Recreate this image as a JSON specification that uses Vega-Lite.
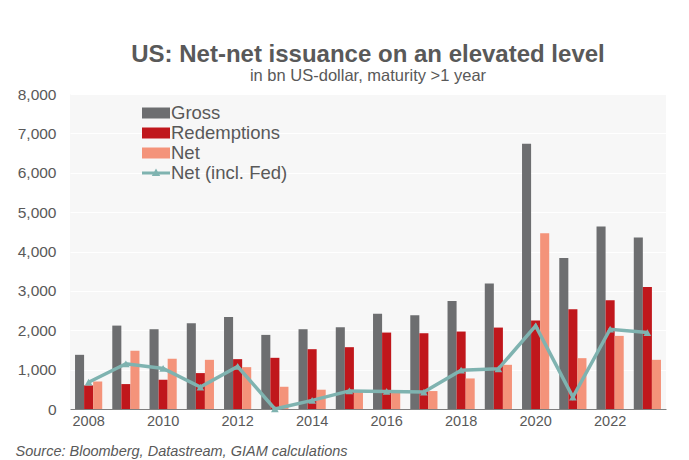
{
  "$schema": "https://vega.github.io/schema/vega-lite/v6.json",
  "width": 596,
  "height": 315,
  "autosize": {"type": "none"},
  "padding": {"left": 70, "right": 23, "top": 94, "bottom": 51},
  "background": "white",
  "config": {
    "font": "Liberation Sans",
    "view": {"stroke": null, "fill": "#f7f7f7"}
  },
  "title": {
    "text": "US: Net-net issuance on an elevated level",
    "subtitle": "in bn US-dollar, maturity >1 year",
    "anchor": "middle",
    "frame": "group",
    "fontSize": 24,
    "fontWeight": "bold",
    "color": "#595959",
    "subtitleFontSize": 16.5,
    "subtitleColor": "#595959",
    "subtitlePadding": 1,
    "offset": 3
  },
  "datasets": {
    "bars": [
      {"year": 2008, "series": "Gross", "value": 1376},
      {"year": 2008, "series": "Redemptions", "value": 600},
      {"year": 2008, "series": "Net", "value": 700},
      {"year": 2009, "series": "Gross", "value": 2118},
      {"year": 2009, "series": "Redemptions", "value": 633},
      {"year": 2009, "series": "Net", "value": 1477},
      {"year": 2010, "series": "Gross", "value": 2026},
      {"year": 2010, "series": "Redemptions", "value": 743},
      {"year": 2010, "series": "Net", "value": 1274},
      {"year": 2011, "series": "Gross", "value": 2178},
      {"year": 2011, "series": "Redemptions", "value": 912},
      {"year": 2011, "series": "Net", "value": 1249},
      {"year": 2012, "series": "Gross", "value": 2338},
      {"year": 2012, "series": "Redemptions", "value": 1266},
      {"year": 2012, "series": "Net", "value": 1063},
      {"year": 2013, "series": "Gross", "value": 1882},
      {"year": 2013, "series": "Redemptions", "value": 1300},
      {"year": 2013, "series": "Net", "value": 565},
      {"year": 2014, "series": "Gross", "value": 2026},
      {"year": 2014, "series": "Redemptions", "value": 1519},
      {"year": 2014, "series": "Net", "value": 490},
      {"year": 2015, "series": "Gross", "value": 2076},
      {"year": 2015, "series": "Redemptions", "value": 1570},
      {"year": 2015, "series": "Net", "value": 440},
      {"year": 2016, "series": "Gross", "value": 2422},
      {"year": 2016, "series": "Redemptions", "value": 1941},
      {"year": 2016, "series": "Net", "value": 422},
      {"year": 2017, "series": "Gross", "value": 2380},
      {"year": 2017, "series": "Redemptions", "value": 1924},
      {"year": 2017, "series": "Net", "value": 456},
      {"year": 2018, "series": "Gross", "value": 2743},
      {"year": 2018, "series": "Redemptions", "value": 1967},
      {"year": 2018, "series": "Net", "value": 776},
      {"year": 2019, "series": "Gross", "value": 3190},
      {"year": 2019, "series": "Redemptions", "value": 2068},
      {"year": 2019, "series": "Net", "value": 1122},
      {"year": 2020, "series": "Gross", "value": 6735},
      {"year": 2020, "series": "Redemptions", "value": 2245},
      {"year": 2020, "series": "Net", "value": 4465},
      {"year": 2021, "series": "Gross", "value": 3832},
      {"year": 2021, "series": "Redemptions", "value": 2532},
      {"year": 2021, "series": "Net", "value": 1291},
      {"year": 2022, "series": "Gross", "value": 4634},
      {"year": 2022, "series": "Redemptions", "value": 2760},
      {"year": 2022, "series": "Net", "value": 1857},
      {"year": 2023, "series": "Gross", "value": 4355},
      {"year": 2023, "series": "Redemptions", "value": 3097},
      {"year": 2023, "series": "Net", "value": 1249}
    ],
    "fed": [
      {"year": 2008, "value": 680},
      {"year": 2009, "value": 1148},
      {"year": 2010, "value": 1030},
      {"year": 2011, "value": 557},
      {"year": 2012, "value": 1080},
      {"year": 2013, "value": 0},
      {"year": 2014, "value": 219},
      {"year": 2015, "value": 460},
      {"year": 2016, "value": 447},
      {"year": 2017, "value": 430},
      {"year": 2018, "value": 987},
      {"year": 2019, "value": 1021},
      {"year": 2020, "value": 2110},
      {"year": 2021, "value": 304},
      {"year": 2022, "value": 2026},
      {"year": 2023, "value": 1941}
    ]
  },
  "encoding": {
    "x": {
      "field": "year",
      "type": "ordinal",
      "scale": {"paddingInner": 0.27, "paddingOuter": 0.135},
      "axis": {
        "values": [2008, 2010, 2012, 2014, 2016, 2018, 2020, 2022],
        "labelAngle": 0,
        "domain": true,
        "domainColor": "#808080",
        "domainWidth": 1,
        "ticks": false,
        "grid": false,
        "labelFontSize": 14.5,
        "labelColor": "#595959",
        "labelPadding": 5,
        "title": "Source: Bloomberg, Datastream, GIAM calculations",
        "titleFontStyle": "italic",
        "titleFontWeight": "normal",
        "titleFontSize": 14.5,
        "titleColor": "#595959",
        "titleAnchor": "start",
        "titleAlign": "left",
        "titleBaseline": "alphabetic",
        "titleX": -55,
        "titleY": 46
      }
    },
    "y": {
      "field": "value",
      "type": "quantitative",
      "scale": {"domain": [0, 8000], "nice": false},
      "axis": {
        "values": [0, 1000, 2000, 3000, 4000, 5000, 6000, 7000, 8000],
        "format": ",.0f",
        "title": null,
        "domain": false,
        "ticks": false,
        "grid": true,
        "gridColor": "#ffffff",
        "gridWidth": 1.2,
        "labelFontSize": 15.5,
        "labelColor": "#595959",
        "labelPadding": 14
      }
    }
  },
  "layer": [
    {
      "data": {"name": "bars"},
      "mark": {"type": "bar"},
      "encoding": {
        "xOffset": {
          "field": "series",
          "type": "nominal",
          "sort": ["Gross", "Redemptions", "Net"],
          "scale": {"paddingInner": 0}
        },
        "color": {
          "field": "series",
          "type": "nominal",
          "scale": {
            "domain": ["Gross", "Redemptions", "Net", "Net (incl. Fed)"],
            "range": ["#6d6e70", "#c0171c", "#f4937a", "#7fb3b0"]
          },
          "legend": {
            "orient": "none",
            "legendX": 76,
            "legendY": 9,
            "title": null,
            "labelFontSize": 18.5,
            "labelColor": "#595959",
            "labelOffset": 5,
            "symbolSize": 400,
            "rowPadding": 0,
            "symbolStrokeWidth": 0,
            "encode": {
              "symbols": {
                "update": {
                  "shape": {"signal": "datum.label === 'Net (incl. Fed)' ? 'M-1.4,-0.16H1.4V0.16H-1.4Z M0,-0.45L0.42,0.3H-0.42Z' : 'M-1.4,-0.55H1.4V0.55H-1.4Z'"},
                  "fill": {"scale": "color", "field": "value"},
                  "stroke": {"value": "transparent"},
                  "opacity": {"value": 1}
                }
              }
            }
          }
        }
      }
    },
    {
      "data": {"name": "fed"},
      "mark": {"type": "line", "strokeWidth": 3.5},
      "encoding": {
        "color": {"datum": "Net (incl. Fed)"}
      }
    },
    {
      "data": {"name": "fed"},
      "mark": {"type": "point", "shape": "triangle-up", "filled": true, "size": 60, "opacity": 1},
      "encoding": {
        "color": {"datum": "Net (incl. Fed)"}
      }
    }
  ]
}
